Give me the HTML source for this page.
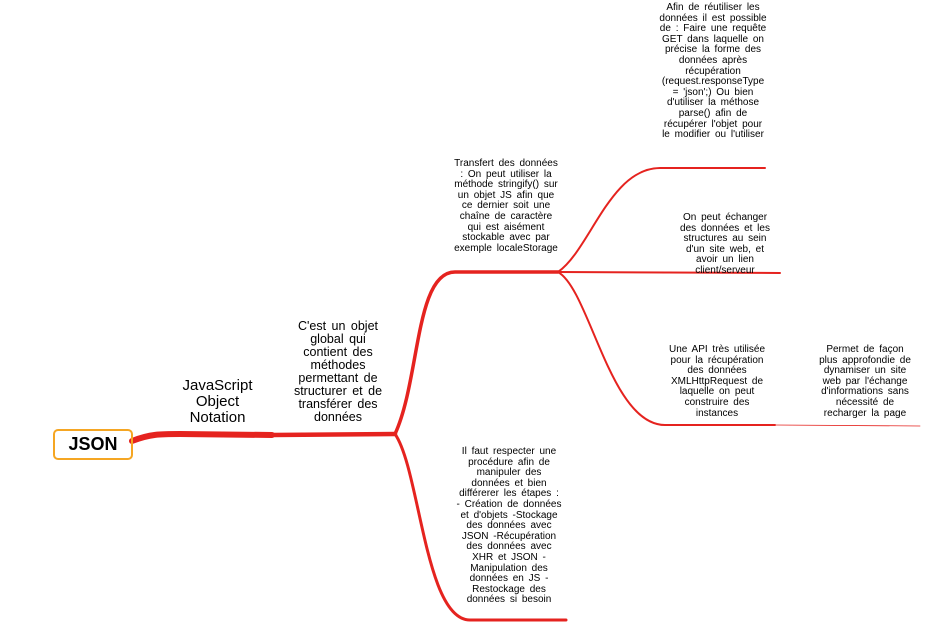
<!DOCTYPE html>
<html><head><meta charset="utf-8"><style>
body{margin:0;width:932px;height:635px;background:#fff;position:relative;overflow:hidden;font-family:"Liberation Sans",Arial,sans-serif;color:#000}
.t{position:absolute;text-align:center;font-size:10px;line-height:10.6px;word-spacing:2px}
</style></head><body>
<svg width="932" height="635" style="position:absolute;left:0;top:0" fill="none" stroke="#e5231f" stroke-linecap="round">
<path d="M132,441 C150,434 160,434 180,434 L272,435" stroke-width="6"/>
<path d="M272,435 L395,434" stroke-width="4.5"/>
<path d="M395,434 C420,380 415,272 455,272 L558,272" stroke-width="3.5"/>
<path d="M395,434 C420,470 425,620 470,620 L566,620" stroke-width="3"/>
<path d="M558,272 C590,250 610,168 660,168 L765,168" stroke-width="2"/>
<path d="M558,272 L780,273" stroke-width="2"/>
<path d="M558,272 C590,290 610,425 665,425 L775,425" stroke-width="2"/>
<path d="M775,425 L920,426" stroke-width="0.8"/>
</svg>
<div style="position:absolute;left:53px;top:429px;width:76px;height:27px;border:2px solid #f5a623;border-radius:5px;font-weight:bold;font-size:18px;line-height:27px;text-align:center">JSON</div>
<div class="t" style="left:170px;top:378px;width:95px;font-size:15px;line-height:16px;word-spacing:0">JavaScript Object Notation</div>
<div class="t" style="left:290px;top:320px;width:96px;font-size:12.5px;line-height:13px">C'est un objet global qui contient des méthodes permettant de structurer et de transférer des données</div>
<div class="t" style="left:452px;top:159px;width:108px">Transfert des données : On peut utiliser la méthode stringify() sur un objet JS afin que ce dernier soit une chaîne de caractère qui est aisément stockable avec par exemple localeStorage</div>
<div class="t" style="left:658px;top:3px;width:110px">Afin de réutiliser les données il est possible de : Faire une requête GET dans laquelle on précise la forme des données après récupération (request.responseType = 'json';) Ou bien d'utiliser la méthose parse() afin de récupérer l'objet pour le modifier ou l'utiliser</div>
<div class="t" style="left:676px;top:213px;width:98px">On peut échanger des données et les structures au sein d'un site web, et avoir un lien client/serveur</div>
<div class="t" style="left:664px;top:345px;width:106px">Une API très utilisée pour la récupération des données XMLHttpRequest de laquelle on peut construire des instances</div>
<div class="t" style="left:816px;top:345px;width:98px">Permet de façon plus approfondie de dynamiser un site web par l'échange d'informations sans nécessité de recharger la page</div>
<div class="t" style="left:456px;top:447px;width:106px">Il faut respecter une procédure afin de manipuler des données et bien différerer les étapes : - Création de données et d'objets -Stockage des données avec JSON -Récupération des données avec XHR et JSON -Manipulation des données en JS -Restockage des données si besoin</div>
</body></html>
